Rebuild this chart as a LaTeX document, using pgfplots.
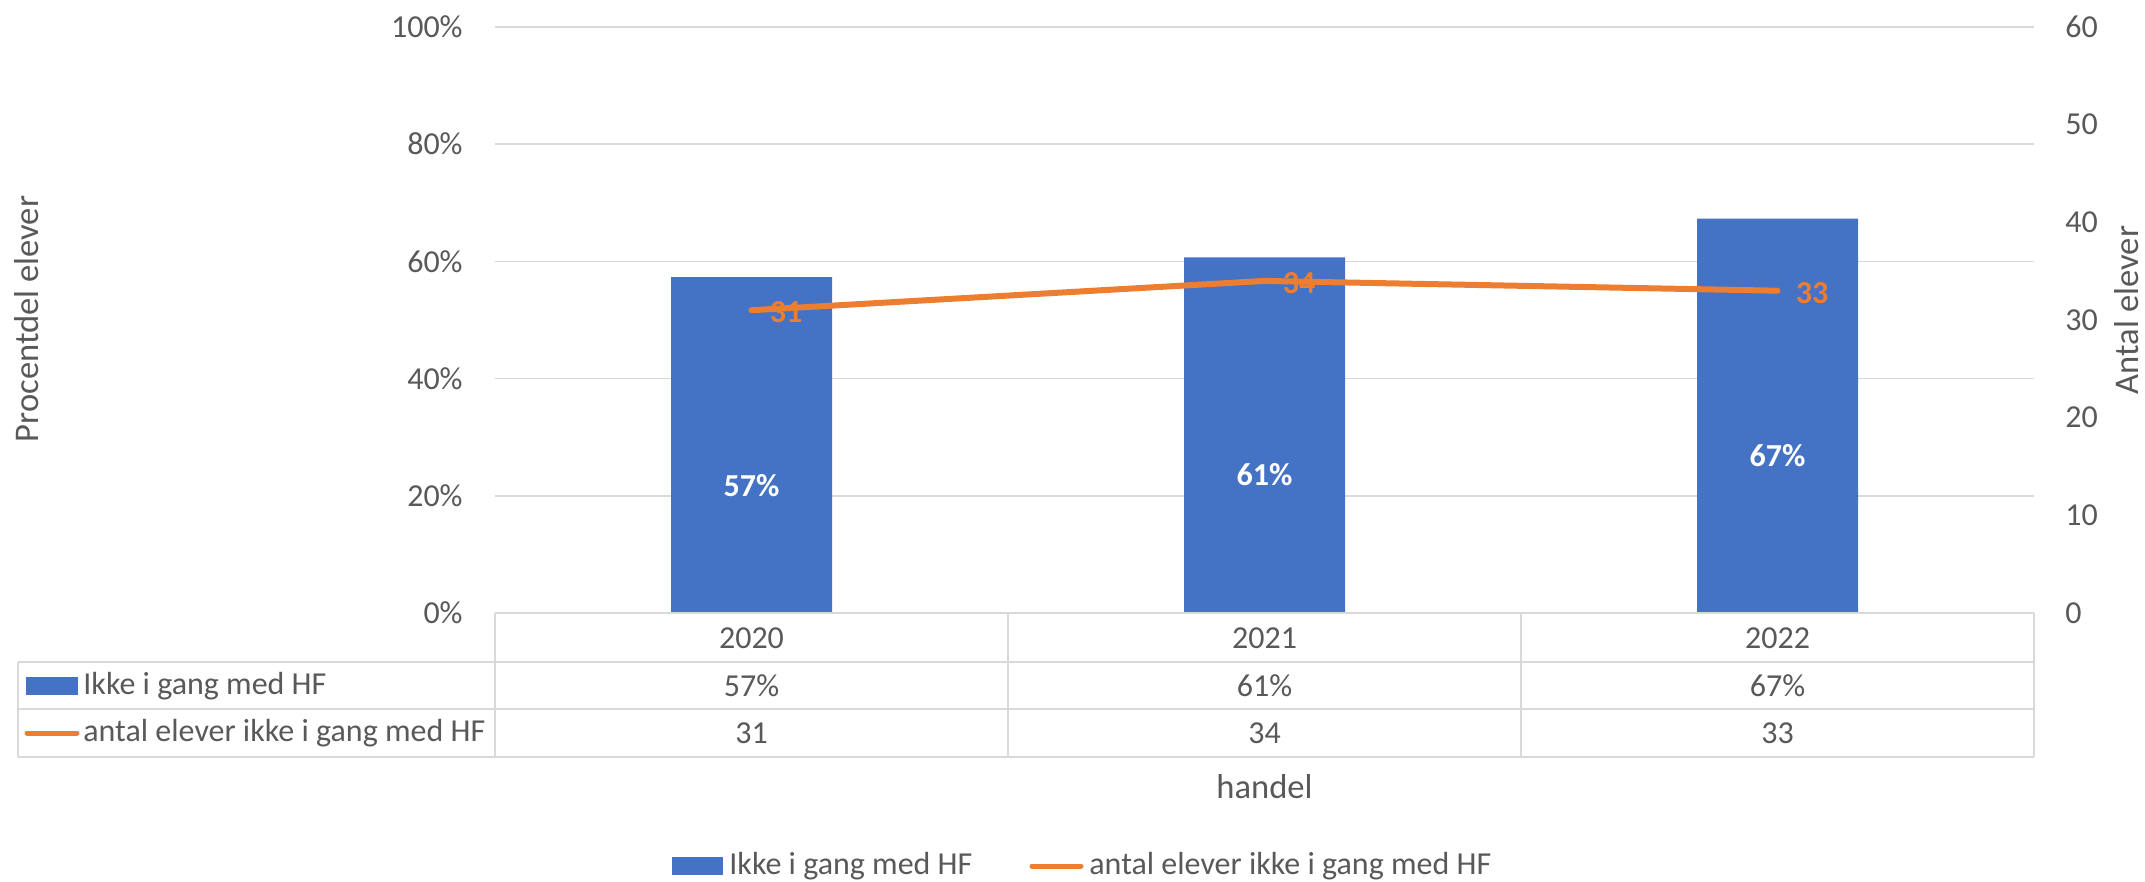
\documentclass[border=0pt]{standalone}
\usepackage{pgfplots}
\pgfplotsset{compat=1.18}
\usepackage{fontspec}
\setmainfont{Carlito}
\definecolor{barblue}{HTML}{4472C4}
\definecolor{lineorange}{HTML}{ED7D31}
\definecolor{gridgray}{HTML}{D9D9D9}
\definecolor{textgray}{HTML}{595959}
\newcommand\titlefont{\fontsize{17.3}{20}\selectfont}
\begin{document}
\fontsize{16}{19}\selectfont
\begin{tikzpicture}
\begin{scope}[x=0.5pt,y=-0.5pt]
\useasboundingbox (0,0) rectangle (2145,882);
\end{scope}
\begin{axis}[
  at={(247.5pt,-306.5pt)}, anchor=south west,
  scale only axis, width=769.5pt, height=293pt,
  xmin=-0.5, xmax=2.5, ymin=0, ymax=100,
  xtick=\empty,
  ytick={0,20,40,60,80,100},
  yticklabels={0\%,20\%,40\%,60\%,80\%,100\%},
  yticklabel style={inner sep=0pt, xshift=-16pt, text=textgray},
  axis line style={draw=none},
  major tick length=0pt,
  ymajorgrids, grid style={gridgray, line width=0.75pt},
  clip=false,
]
\addplot[ybar, bar width=80.5pt, fill=barblue, draw=none] coordinates {(0,57.3) (1,60.7) (2,67.3)};
\node[text=white, font=\bfseries] at (axis cs:0,21.7) {57\%};
\node[text=white, font=\bfseries] at (axis cs:1,23.6) {61\%};
\node[text=white, font=\bfseries] at (axis cs:2,26.9) {67\%};
\end{axis}
\begin{axis}[
  at={(247.5pt,-306.5pt)}, anchor=south west,
  scale only axis, width=769.5pt, height=293pt,
  xmin=-0.5, xmax=2.5, ymin=0, ymax=60,
  axis y line*=right, axis x line=none,
  ytick={0,10,20,30,40,50,60},
  yticklabels={0,10,20,30,40,50,60},
  yticklabel style={inner sep=0pt, xshift=15.5pt, text=textgray},
  axis line style={draw=none},
  major tick length=0pt,
  clip=false,
]
\addplot[lineorange, line width=3pt, line cap=round, line join=round] coordinates {(0,31) (1,34) (2,33)};
\node[text=lineorange, font=\bfseries, anchor=west, inner sep=0pt, xshift=9pt, yshift=-1pt] at (axis cs:0,31) {31};
\node[text=lineorange, font=\bfseries, anchor=west, inner sep=0pt, xshift=9pt, yshift=-1pt] at (axis cs:1,34) {34};
\node[text=lineorange, font=\bfseries, anchor=west, inner sep=0pt, xshift=9pt, yshift=-1pt] at (axis cs:2,33) {33};
\end{axis}
\begin{scope}[x=0.5pt,y=-0.5pt]
% data table
\begin{scope}[gridgray, line width=1pt]
\draw (495,613) -- (2034,613);
\draw (18,662) -- (2034,662);
\draw (18,709) -- (2034,709);
\draw (18,757) -- (2034,757);
\draw (18,662) -- (18,757);
\draw (495,613) -- (495,757);
\draw (1008,613) -- (1008,757);
\draw (1521,613) -- (1521,757);
\draw (2034,613) -- (2034,757);
\end{scope}
\begin{scope}[every node/.style={text=textgray, inner sep=0pt}]
\node at (751.5,638) {2020};
\node at (1264.5,638) {2021};
\node at (1777.5,638) {2022};
\node at (751.5,686) {57\%};
\node at (1264.5,686) {61\%};
\node at (1777.5,686) {67\%};
\node at (751.5,733) {31};
\node at (1264.5,733) {34};
\node at (1777.5,733) {33};
\node[anchor=west] at (83,686) {Ikke i gang med HF};
\node[anchor=west] at (83,733) {antal elever ikke i gang med HF};
\node[font=\titlefont] at (1264.5,787) {handel};
\node[anchor=west] at (729,866) {Ikke i gang med HF};
\node[anchor=west] at (1089,866) {antal elever ikke i gang med HF};
\node[rotate=90, font=\titlefont] at (27,319) {Procentdel elever};
\node[rotate=90, font=\titlefont] at (2127,310) {Antal elever};
\end{scope}
\fill[barblue] (26,677) rectangle (78,695);
\draw[lineorange, line width=2.5pt, line cap=round] (27,733) -- (77,733);
\fill[barblue] (672,857) rectangle (723,875);
\draw[lineorange, line width=2.5pt, line cap=round] (1032,866) -- (1081,866);
\end{scope}
\end{tikzpicture}
\end{document}
